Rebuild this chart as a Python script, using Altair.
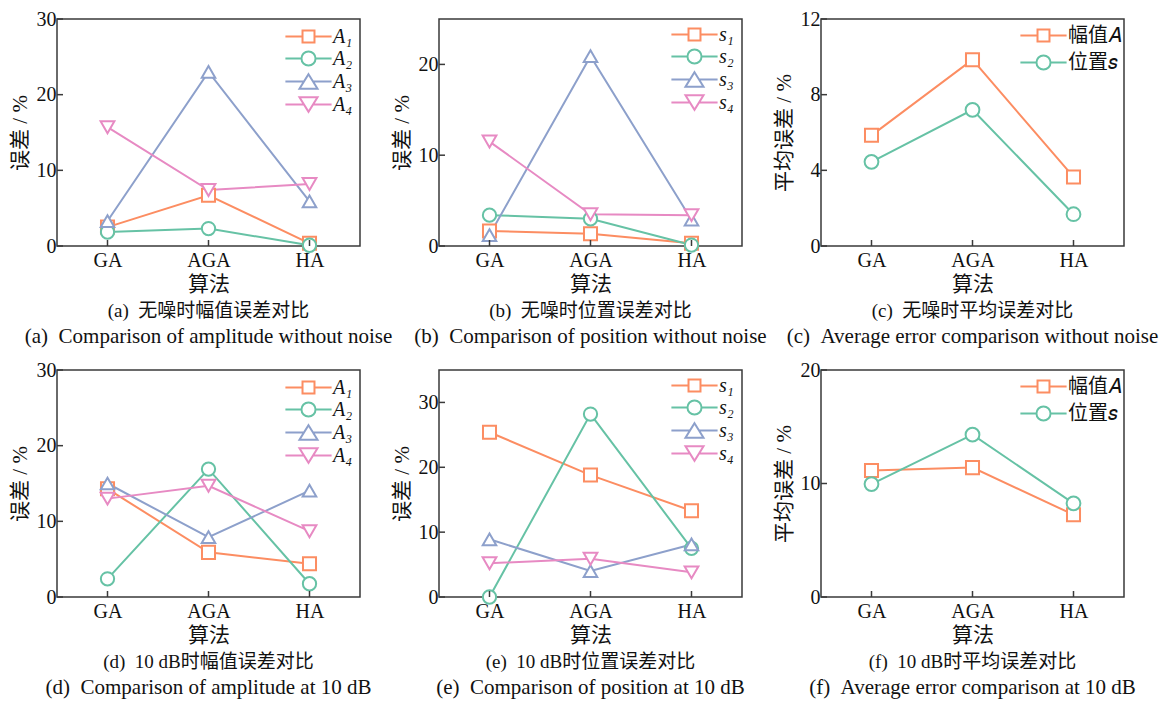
import altair as alt
import pandas as pd

algos = ["GA", "AGA", "HA"]

# (a) amplitude error, no noise
a_A1 = [2.5, 6.7, 0.35]
a_A2 = [1.85, 2.3, 0.1]
a_A3 = [3.3, 23.0, 5.9]
a_A4 = [15.7, 7.4, 8.2]
# (b) position error, no noise
b_s1 = [1.65, 1.35, 0.3]
b_s2 = [3.4, 3.0, 0.1]
b_s3 = [1.2, 20.9, 2.9]
b_s4 = [11.5, 3.5, 3.4]
# (c) average error, no noise
c_amp = [5.85, 9.85, 3.65]
c_pos = [4.45, 7.2, 1.68]
# (d) amplitude error, 10 dB
d_A1 = [14.3, 5.9, 4.4]
d_A2 = [2.4, 16.9, 1.75]
d_A3 = [15.0, 7.9, 14.05]
d_A4 = [13.0, 14.7, 8.7]
# (e) position error, 10 dB
e_s1 = [25.4, 18.8, 13.3]
e_s2 = [0.0, 28.2, 7.5]
e_s3 = [8.9, 4.0, 8.1]
e_s4 = [5.2, 5.9, 3.8]
# (f) average error, 10 dB
f_amp = [11.15, 11.4, 7.25]
f_pos = [9.95, 14.3, 8.25]

names_A = ["A₁", "A₂", "A₃", "A₄"]
names_s = ["s₁", "s₂", "s₃", "s₄"]
names_avg = ["幅值𝐴", "位置𝑠"]

colors = ["#FC8D62", "#66C2A5", "#8DA0CB", "#E78AC3"]
shapes = ["square", "circle", "triangle-up", "triangle-down"]
sizes = [170, 190, 280, 260]

legend_paths = [
    "M-2.2,0L-0.57,0M0.57,0L2.2,0M-0.57,-0.57L0.57,-0.57L0.57,0.57L-0.57,0.57Z",
    "M-2.2,0L-0.67,0M0.67,0L2.2,0M-0.67,0A0.67,0.67,0,1,1,0.67,0A0.67,0.67,0,1,1,-0.67,0Z",
    "M-2.2,0L-0.43,0M0.43,0L2.2,0M0,-0.7L0.86,0.7L-0.86,0.7Z",
    "M-2.2,0L-0.43,0M0.43,0L2.2,0M-0.86,-0.7L0.86,-0.7L0,0.7Z",
]

W, H = 303, 227
SERIF = "Liberation Serif"
MIXED = "Liberation Serif, Noto Sans CJK SC"
FRAME = "#3a3a3a"


def panel(series, names, ydomain, yticks, ytitle, cap_cn, cap_en, lx, ly, rowpad, italic):
    n = len(series)
    rows = []
    for name, vals in zip(names, series):
        for al, v in zip(algos, vals):
            rows.append({"algo": al, "series": name, "val": v})
    df = pd.DataFrame(rows)

    xaxis = alt.Axis(title="算法", domain=False, ticks=False, tickSize=0, labelPadding=4,
                     labelFont=SERIF, labelFontSize=20, labelColor="#111", labelAngle=0,
                     titleFont=MIXED, titleFontSize=21, titleFontWeight="normal",
                     titleColor="#111", titlePadding=3, grid=False)
    yaxis = alt.Axis(title=ytitle, domain=False, ticks=False, tickSize=0, labelPadding=1,
                     values=yticks, format="d", labelFont=SERIF, labelFontSize=20,
                     labelColor="#111", titleFont=MIXED, titleFontSize=21,
                     titleFontWeight="normal", titleColor="#111", titlePadding=6, grid=False)

    def X(f="algo"):
        return alt.X(f + ":N", sort=algos, scale=alt.Scale(type="point", padding=0.5, domain=algos), axis=xaxis)

    def Y(f="val"):
        return alt.Y(f + ":Q", scale=alt.Scale(domain=ydomain, nice=False, zero=True), axis=yaxis)

    base = alt.Chart(df)
    lines = base.mark_line(strokeWidth=2).encode(
        x=X(), y=Y(),
        color=alt.Color("series:N", scale=alt.Scale(domain=names, range=colors[:n]), legend=None))
    pts = base.mark_point(strokeWidth=2, opacity=1, filled=False).encode(
        x=X(), y=Y(),
        color=alt.Color("series:N", scale=alt.Scale(domain=names, range=colors[:n]), legend=None),
        shape=alt.Shape("series:N", scale=alt.Scale(domain=names, range=shapes[:n]), legend=None),
        size=alt.Size("series:N", scale=alt.Scale(domain=names, range=sizes[:n]), legend=None),
        fill=alt.value("white"))
    leg = alt.Legend(title=None, orient="none", legendX=lx, legendY=ly,
                     symbolSize=441, symbolStrokeWidth=2, symbolFillColor="white",
                     labelFont=MIXED, labelFontSize=20, labelColor="#111",
                     labelFontStyle="italic" if italic else "normal",
                     labelOffset=13, rowPadding=rowpad, padding=0)
    # legend layer: series copied into a field called "value" so that legend
    # entries (whose datum.value is the series name) pick up their own colour
    legl = base.transform_calculate(value="datum.series").mark_point(
        strokeWidth=2, opacity=1, filled=False, size=0).encode(
        x=X(), y=Y(),
        color=alt.Color("value:N", scale=alt.Scale(domain=names, range=colors[:n]), legend=leg),
        shape=alt.Shape("value:N", scale=alt.Scale(domain=names, range=legend_paths[:n]), legend=leg),
        fill=alt.value("white"))

    ytk = alt.Chart(pd.DataFrame({"t": yticks})).mark_rule(color=FRAME, strokeWidth=1.5).encode(
        y=Y("t"), x=alt.value(0), x2=alt.value(6))
    xtk = alt.Chart(pd.DataFrame({"algo": algos})).mark_rule(color=FRAME, strokeWidth=1.5).encode(
        x=X(), y=alt.value(H), y2=alt.value(H - 6))

    ch = alt.layer(lines, pts, legl, ytk, xtk).resolve_scale(
        shape="independent", color="independent", size="independent").properties(
        width=W, height=H,
        title=alt.TitleParams(text=cap_cn, subtitle=cap_en, orient="bottom", anchor="middle",
                              frame="group", font=MIXED, fontSize=19, fontWeight="normal",
                              color="#111", offset=8, subtitleFont=SERIF, subtitleFontSize=21,
                              subtitleColor="#111", subtitlePadding=5))
    return ch


NB = "\u00a0\u00a0"
pa = panel([a_A1, a_A2, a_A3, a_A4], names_A, [0, 30], [0, 10, 20, 30], "误差 / %",
           "(a)" + NB + "无噪时幅值误差对比", "(a)" + NB + "Comparison of amplitude without noise",
           240, 6, 0, True)
pb = panel([b_s1, b_s2, b_s3, b_s4], names_s, [0, 25], [0, 10, 20], "误差 / %",
           "(b)" + NB + "无噪时位置误差对比", "(b)" + NB + "Comparison of position without noise",
           244, 4, 0, True)
pc = panel([c_amp, c_pos], names_avg, [0, 12], [0, 4, 8, 12], "平均误差 / %",
           "(c)" + NB + "无噪时平均误差对比", "(c)" + NB + "Average error comparison without noise",
           211, 5, 5, False)
pd_ = panel([d_A1, d_A2, d_A3, d_A4], names_A, [0, 30], [0, 10, 20, 30], "误差 / %",
            "(d)" + NB + "10 dB时幅值误差对比", "(d)" + NB + "Comparison of amplitude at 10 dB",
            240, 6, 0, True)
pe = panel([e_s1, e_s2, e_s3, e_s4], names_s, [0, 35], [0, 10, 20, 30], "误差 / %",
           "(e)" + NB + "10 dB时位置误差对比", "(e)" + NB + "Comparison of position at 10 dB",
           244, 4, 0, True)
pf = panel([f_amp, f_pos], names_avg, [0, 20], [0, 10, 20], "平均误差 / %",
           "(f)" + NB + "10 dB时平均误差对比", "(f)" + NB + "Average error comparison at 10 dB",
           211, 5, 5, False)

chart = alt.concat(pa, pb, pc, pd_, pe, pf, columns=3,
                   spacing=alt.RowColnumber(row=124, column=79), bounds="flush").properties(
    padding={"left": 0, "top": 0, "right": 0, "bottom": 0},
    background="white"
).configure_view(stroke=FRAME, strokeWidth=1.5)

chart.save("out.html", embed_options={"renderer": "svg", "actions": False})
